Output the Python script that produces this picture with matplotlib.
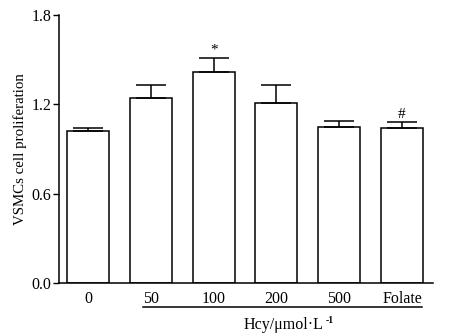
import matplotlib.pyplot as plt
import matplotlib.transforms as mtransforms

plt.rcParams['font.family'] = ['Liberation Serif', 'DejaVu Serif']

groups = ['0', '50', '100', '200', '500', 'Folate']
means = [1.02, 1.24, 1.42, 1.21, 1.05, 1.04]
errs = [0.02, 0.09, 0.09, 0.12, 0.035, 0.04]
marks = ['', '', '*', '', '', '#']


def plot():
    fig = plt.figure(figsize=(4.49, 3.34), dpi=100)
    ax = fig.add_axes([0.1314, 0.1527, 0.833, 0.8023])
    x = range(len(groups))
    ax.bar(x, means, width=0.67, color='white', edgecolor='black', linewidth=1.1)
    ax.errorbar(x, means, yerr=[[0] * len(errs), errs], fmt='none', ecolor='black',
                elinewidth=1.1, capsize=11, capthick=1.1)
    for i, m in enumerate(marks):
        if m:
            ax.text(i, means[i] + errs[i] + 0.01, m, ha='center', va='bottom', fontsize=11)

    ax.set_xlim(-0.462, 5.494)
    ax.set_ylim(0, 1.8)
    ax.set_yticks([0.0, 0.6, 1.2, 1.8])
    ax.set_yticklabels(['0.0', '0.6', '1.2', '1.8'])
    ax.set_xticks(list(x))
    ax.set_xticklabels(groups)
    ax.tick_params(axis='x', length=0, pad=6, labelsize=11.5)
    ax.tick_params(axis='y', length=4, width=1, direction='out', labelsize=11.5, pad=1.5)
    ax.spines[['top', 'right']].set_visible(False)
    ax.spines[['left', 'bottom']].set_linewidth(1.1)
    ax.set_ylabel('VSMCs cell proliferation', fontsize=10.7, labelpad=1)
    ax.yaxis.set_label_coords(-0.085, 0.5)

    trans = mtransforms.blended_transform_factory(ax.transData, ax.transAxes)
    ax.plot([0.876, 5.32], [-0.0896, -0.0896], color='black', lw=1.1,
            transform=trans, clip_on=False)
    t = ax.text(3.12, -0.158, 'Hcy/μmol·L', transform=trans,
                ha='center', va='center', fontsize=11.5)
    ax.annotate('-1', xy=(1, 1), xycoords=t, xytext=(1, 1), textcoords='offset points',
                ha='left', va='top', fontsize=7, fontweight='bold')
    return fig


def main():
    fig = plot()
    fig.savefig('out.png', dpi=100)


if __name__ == '__main__':
    main()
